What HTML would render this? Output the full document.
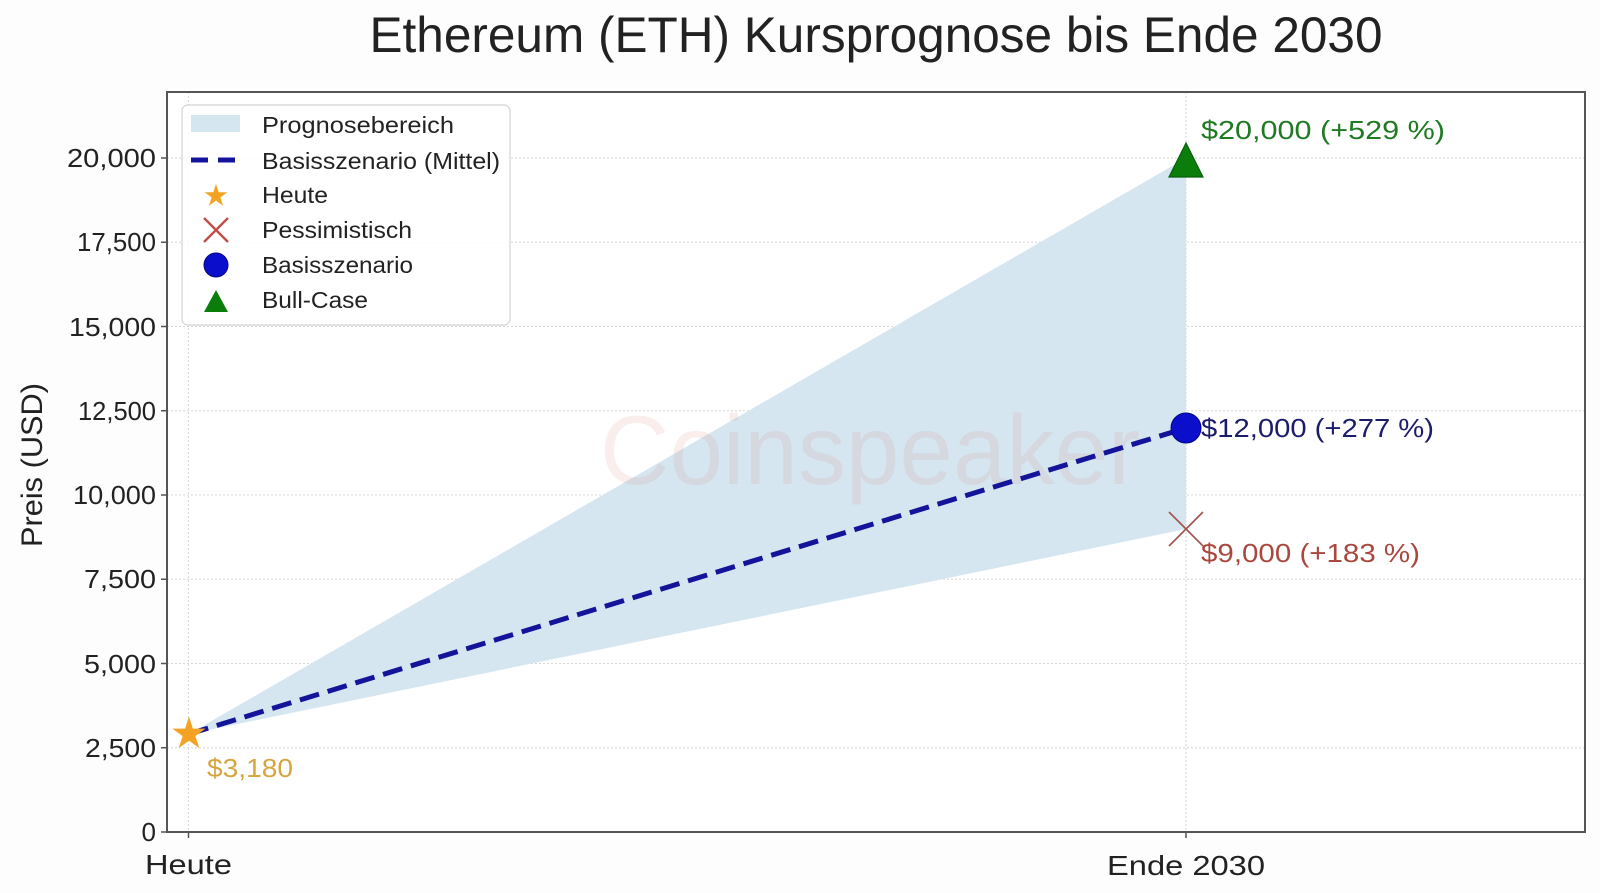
<!DOCTYPE html>
<html>
<head>
<meta charset="utf-8">
<style>
  html,body{margin:0;padding:0;background:#ffffff;}
  svg{display:block;}
  text{font-family:"Liberation Sans",sans-serif;}
</style>
</head>
<body>
<svg width="1600" height="893" viewBox="0 0 1600 893" xmlns="http://www.w3.org/2000/svg">
  <rect x="0" y="0" width="1600" height="893" fill="#fdfdfd"/>

  <!-- Title -->
  <text x="876" y="52" font-size="50" fill="#222" text-anchor="middle" textLength="1013" lengthAdjust="spacingAndGlyphs">Ethereum (ETH) Kursprognose bis Ende 2030</text>

  <!-- Plot area -->
  <rect x="167" y="92" width="1418" height="740" fill="#ffffff"/>

  <!-- Gridlines -->
  <g stroke="#d6d6d6" stroke-width="1" stroke-dasharray="2 2" fill="none">
    <line x1="167" y1="747.75" x2="1585" y2="747.75"/>
    <line x1="167" y1="663.5" x2="1585" y2="663.5"/>
    <line x1="167" y1="579.25" x2="1585" y2="579.25"/>
    <line x1="167" y1="495" x2="1585" y2="495"/>
    <line x1="167" y1="410.75" x2="1585" y2="410.75"/>
    <line x1="167" y1="326.5" x2="1585" y2="326.5"/>
    <line x1="167" y1="242.25" x2="1585" y2="242.25"/>
    <line x1="167" y1="158" x2="1585" y2="158"/>
    <line x1="188.5" y1="92" x2="188.5" y2="832"/>
    <line x1="1186" y1="92" x2="1186" y2="832"/>
  </g>

  <!-- Forecast range fill -->
  <polygon points="189,734 1186,158 1186,529" fill="#d6e6f1"/>

  <!-- Watermark -->
  <text x="600" y="484" font-size="98" fill="#d47a6e" fill-opacity="0.13" textLength="540" lengthAdjust="spacingAndGlyphs">Coinspeaker</text>

  <!-- Base scenario dashed line -->
  <line x1="189" y1="734" x2="1186" y2="428" stroke="#14149b" stroke-width="5" stroke-dasharray="20 9"/>

  <!-- Markers -->
  <polygon transform="translate(189,734) scale(17.5)" points="0,-1 0.2245,-0.309 0.9511,-0.309 0.3633,0.118 0.5878,0.809 0,0.382 -0.5878,0.809 -0.3633,0.118 -0.9511,-0.309 -0.2245,-0.309" fill="#f4a223"/>
  <g stroke="#a5524c" stroke-width="1.6">
    <line x1="1169" y1="512" x2="1203" y2="546"/>
    <line x1="1203" y1="512" x2="1169" y2="546"/>
  </g>
  <circle cx="1186" cy="428" r="15" fill="#0b0fcb" stroke="#050585" stroke-width="1"/>
  <polygon points="1186,143 1169,177 1203,177" fill="#0b7d0b" stroke="#08600a" stroke-width="1.2"/>

  <!-- Annotations -->
  <text x="1201" y="139" font-size="26" fill="#1f7a22" textLength="244" lengthAdjust="spacingAndGlyphs">$20,000 (+529 %)</text>
  <text x="1201" y="437" font-size="26" fill="#1c1c6a" textLength="233" lengthAdjust="spacingAndGlyphs">$12,000 (+277 %)</text>
  <text x="1201" y="562" font-size="26" fill="#a8483e" textLength="219" lengthAdjust="spacingAndGlyphs">$9,000 (+183 %)</text>
  <text x="207" y="777" font-size="26" fill="#d6a540" textLength="86" lengthAdjust="spacingAndGlyphs">$3,180</text>

  <!-- Axes spines -->
  <rect x="167" y="92" width="1418" height="740" fill="none" stroke="#555" stroke-width="2"/>

  <!-- Ticks -->
  <g stroke="#555" stroke-width="1.5">
    <line x1="161" y1="832" x2="167" y2="832"/>
    <line x1="161" y1="747.75" x2="167" y2="747.75"/>
    <line x1="161" y1="663.5" x2="167" y2="663.5"/>
    <line x1="161" y1="579.25" x2="167" y2="579.25"/>
    <line x1="161" y1="495" x2="167" y2="495"/>
    <line x1="161" y1="410.75" x2="167" y2="410.75"/>
    <line x1="161" y1="326.5" x2="167" y2="326.5"/>
    <line x1="161" y1="242.25" x2="167" y2="242.25"/>
    <line x1="161" y1="158" x2="167" y2="158"/>
    <line x1="188.5" y1="832" x2="188.5" y2="838"/>
    <line x1="1186" y1="832" x2="1186" y2="838"/>
  </g>
  <g font-size="26" fill="#222" text-anchor="end">
    <text x="156" y="841">0</text>
    <text x="156" y="757" textLength="71" lengthAdjust="spacingAndGlyphs">2,500</text>
    <text x="156" y="673" textLength="72" lengthAdjust="spacingAndGlyphs">5,000</text>
    <text x="156" y="588" textLength="72" lengthAdjust="spacingAndGlyphs">7,500</text>
    <text x="156" y="504" textLength="83" lengthAdjust="spacingAndGlyphs">10,000</text>
    <text x="156" y="420" textLength="78" lengthAdjust="spacingAndGlyphs">12,500</text>
    <text x="156" y="336" textLength="87" lengthAdjust="spacingAndGlyphs">15,000</text>
    <text x="156" y="251" textLength="79" lengthAdjust="spacingAndGlyphs">17,500</text>
    <text x="156" y="167" textLength="89" lengthAdjust="spacingAndGlyphs">20,000</text>
  </g>

  <!-- X tick labels -->
  <text x="188.5" y="874" font-size="28" fill="#222" text-anchor="middle" textLength="87" lengthAdjust="spacingAndGlyphs">Heute</text>
  <text x="1186" y="875" font-size="28" fill="#222" text-anchor="middle" textLength="158" lengthAdjust="spacingAndGlyphs">Ende 2030</text>

  <!-- Y axis label -->
  <text transform="translate(42,465) rotate(-90)" font-size="30" fill="#222" text-anchor="middle" textLength="164" lengthAdjust="spacingAndGlyphs">Preis (USD)</text>

  <!-- Legend -->
  <rect x="182" y="105" width="328" height="220" rx="6" ry="6" fill="#ffffff" fill-opacity="0.85" stroke="#d4d4d4" stroke-width="1.2"/>
  <rect x="191" y="115" width="49" height="17" fill="#d6e6f1"/>
  <line x1="191" y1="160" x2="240" y2="160" stroke="#14149b" stroke-width="5" stroke-dasharray="17 10"/>
  <polygon transform="translate(216,196) scale(12)" points="0,-1 0.2245,-0.309 0.9511,-0.309 0.3633,0.118 0.5878,0.809 0,0.382 -0.5878,0.809 -0.3633,0.118 -0.9511,-0.309 -0.2245,-0.309" fill="#f4a223"/>
  <g stroke="#c0504d" stroke-width="2.5">
    <line x1="204" y1="218" x2="228" y2="242"/>
    <line x1="228" y1="218" x2="204" y2="242"/>
  </g>
  <circle cx="216" cy="265" r="12" fill="#0b0fcb" stroke="#050585" stroke-width="1"/>
  <polygon points="216,290 204,312 228,312" fill="#0b7d0b"/>
  <g font-size="23" fill="#222">
    <text x="262" y="133" textLength="192" lengthAdjust="spacingAndGlyphs">Prognosebereich</text>
    <text x="262" y="169" textLength="238" lengthAdjust="spacingAndGlyphs">Basisszenario (Mittel)</text>
    <text x="262" y="203" textLength="66" lengthAdjust="spacingAndGlyphs">Heute</text>
    <text x="262" y="238" textLength="150" lengthAdjust="spacingAndGlyphs">Pessimistisch</text>
    <text x="262" y="273" textLength="151" lengthAdjust="spacingAndGlyphs">Basisszenario</text>
    <text x="262" y="308" textLength="106" lengthAdjust="spacingAndGlyphs">Bull-Case</text>
  </g>
</svg>
</body>
</html>
